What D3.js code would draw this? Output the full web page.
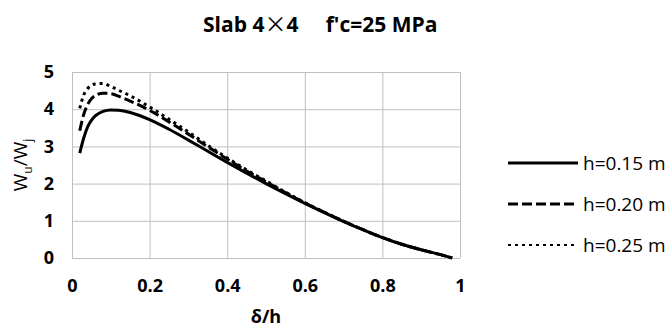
<!doctype html>
<html lang="en">
<head>
<meta charset="utf-8">
<script src="https://cdn.jsdelivr.net/npm/d3@7/dist/d3.min.js"></script>
<title>Slab 4x4 - D3 line chart</title>
<style>
  body { margin: 0; background: white; }
  svg { display: block; }
  .grid line { stroke: #bfbfbf; stroke-width: 1; }
  .grid .domain { display: none; }
  .lbl text { font-family: "Open Sans", sans-serif; font-weight: bold; font-size: 18px; fill: #000; }
  .lbl .domain { display: none; }
  .series { fill: none; stroke: #000; stroke-width: 3; }
</style>
</head>
<body>
<div id="chart"></div>
<script>
// values
const deltaH = [0.02, 0.03, 0.04, 0.05, 0.06, 0.08, 0.10, 0.12, 0.15, 0.20, 0.25, 0.30, 0.35,
                0.40, 0.45, 0.50, 0.55, 0.60, 0.65, 0.70, 0.75, 0.80, 0.85, 0.90, 0.95, 0.98];
const h015 = [2.82, 3.22, 3.52, 3.70, 3.82, 3.94, 3.98, 3.97, 3.91, 3.72, 3.46, 3.17, 2.87,
              2.57, 2.28, 2.00, 1.73, 1.47, 1.22, 0.98, 0.76, 0.55, 0.37, 0.22, 0.09, 0.00];
const h020 = [3.42, 3.85, 4.12, 4.28, 4.37, 4.43, 4.42, 4.35, 4.22, 3.97, 3.66, 3.33, 2.99,
              2.66, 2.34, 2.05, 1.76, 1.48, 1.23, 0.99, 0.76, 0.55, 0.37, 0.22, 0.09, 0.00];
const h025 = [4.02, 4.38, 4.55, 4.64, 4.68, 4.69, 4.61, 4.51, 4.36, 4.06, 3.73, 3.39, 3.03,
              2.69, 2.37, 2.07, 1.77, 1.49, 1.23, 0.99, 0.76, 0.55, 0.37, 0.22, 0.09, 0.00];
const seriesNames = ['h=0.15 m', 'h=0.20 m', 'h=0.25 m'];
const xTicks = [0, 0.2, 0.4, 0.6, 0.8, 1];
const xTickLabels = ['0', '0.2', '0.4', '0.6', '0.8', '1'];
const yTicks = [0, 1, 2, 3, 4, 5];
const yTickLabels = ['0', '1', '2', '3', '4', '5'];

const W = 667, H = 327;
const plotL = 72, plotR = 460, plotT = 72, plotB = 258;
const dashes = [null, '10,4', '3,4'];

const svg = d3.select('#chart').append('svg')
  .attr('width', W)
  .attr('height', H);

const xScale = d3.scaleLinear().domain([0, 1]).range([plotL, plotR]);
const yScale = d3.scaleLinear().domain([0, 5]).range([plotB, plotT]);

// gridlines
svg.append('g')
  .attr('class', 'grid')
  .attr('transform', 'translate(0,' + plotB + ')')
  .call(d3.axisBottom(xScale).tickValues(xTicks).tickSize(-(plotB - plotT)).tickFormat(''));
svg.append('g')
  .attr('class', 'grid')
  .attr('transform', 'translate(' + plotL + ',0)')
  .call(d3.axisLeft(yScale).tickValues(yTicks).tickSize(-(plotR - plotL)).tickFormat(''));

// tick labels
svg.append('g')
  .attr('class', 'lbl')
  .attr('transform', 'translate(0,' + plotB + ')')
  .call(d3.axisBottom(xScale).tickValues(xTicks).tickSize(0).tickPadding(21)
    .tickFormat((d, i) => xTickLabels[i]));
svg.append('g')
  .attr('class', 'lbl')
  .attr('transform', 'translate(' + plotL + ',0)')
  .call(d3.axisLeft(yScale).tickValues(yTicks).tickSize(0).tickPadding(18)
    .tickFormat((d, i) => yTickLabels[i]));

// curves
const data = [h015, h020, h025].map(vals => vals.map((v, i) => [deltaH[i], v]));
const line = d3.line()
  .x(d => xScale(d[0]))
  .y(d => yScale(d[1]))
  .curve(d3.curveMonotoneX);

svg.selectAll('path.series')
  .data(data)
  .enter()
  .append('path')
  .attr('class', 'series')
  .attr('stroke-dasharray', (d, i) => dashes[i])
  .attr('d', line);

// title
const title = svg.append('text')
  .attr('x', 203)
  .attr('y', 32)
  .style('font-family', '"Open Sans", sans-serif')
  .style('font-weight', 'bold')
  .style('font-size', '21px')
  .style('white-space', 'pre');
title.append('tspan').text('Slab 4');
title.append('tspan')
  .style('font-family', '"Noto Sans CJK JP", sans-serif')
  .style('font-weight', 'normal')
  .style('font-size', '22px')
  .text('\u00d7');
title.append('tspan').text('4     f\'c=25 MPa');

// axis titles
svg.append('text')
  .attr('x', (plotL + plotR) / 2)
  .attr('y', 323)
  .attr('text-anchor', 'middle')
  .style('font-family', '"Open Sans", sans-serif')
  .style('font-weight', 'bold')
  .style('font-size', '18px')
  .text('\u03b4/h');

const yTitle = svg.append('text')
  .attr('transform', 'translate(27,' + (plotT + plotB) / 2 + ') rotate(-90)')
  .attr('text-anchor', 'middle')
  .style('font-family', '"Open Sans", sans-serif')
  .style('font-size', '19px');
yTitle.append('tspan').text('W');
yTitle.append('tspan').attr('dy', 5).style('font-size', '12px').text('u');
yTitle.append('tspan').attr('dy', -5).text('/W');
yTitle.append('tspan').attr('dy', 5).style('font-size', '12px').text('j');

// legend
const legY = d3.scalePoint().domain(seriesNames).range([163, 245]);
const leg = svg.selectAll('g.leg')
  .data(seriesNames)
  .enter()
  .append('g')
  .attr('class', 'leg')
  .attr('transform', d => 'translate(0,' + legY(d) + ')');
leg.append('line')
  .attr('x1', 508)
  .attr('x2', 578)
  .attr('stroke', '#000')
  .attr('stroke-width', (d, i) => i === 2 ? 2 : 3)
  .attr('stroke-dasharray', (d, i) => dashes[i]);
leg.append('text')
  .attr('x', 583)
  .attr('dy', '0.35em')
  .style('font-family', '"Open Sans", sans-serif')
  .style('font-size', '19px')
  .text(d => d);
</script>
</body>
</html>
